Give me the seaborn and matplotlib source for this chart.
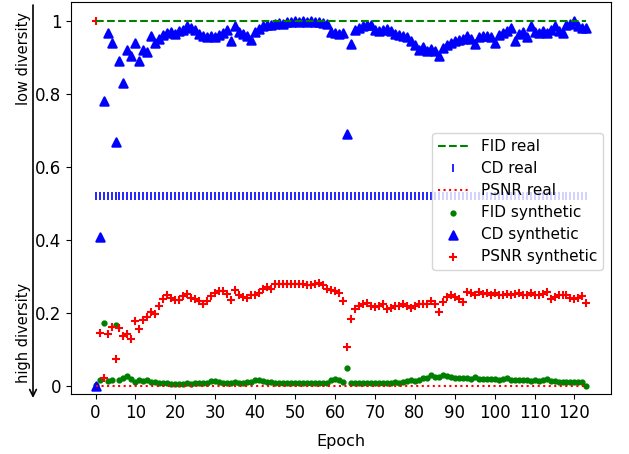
import numpy as np
import pandas as pd
import matplotlib
matplotlib.use("Agg")
import matplotlib.pyplot as plt
import seaborn as sns

plt.rcParams["font.size"] = 12
plt.rcParams["font.family"] = ["DejaVu Sans"]

epochs = list(range(124))

fid_real_value = 1.0
cd_real_value = 0.52
psnr_real_value = 0.0

fid_synthetic = [
    0.003, 0.016, 0.173, 0.015, 0.018, 0.169, 0.016, 0.023, 0.027, 0.021,
    0.012, 0.018, 0.015, 0.016, 0.011, 0.012, 0.009, 0.008, 0.008, 0.007,
    0.007, 0.007, 0.007, 0.008, 0.007, 0.008, 0.008, 0.009, 0.010, 0.014,
    0.015, 0.013, 0.010, 0.010, 0.009, 0.012, 0.009, 0.008, 0.011, 0.013,
    0.016, 0.018, 0.015, 0.013, 0.012, 0.010, 0.009, 0.009, 0.009, 0.008,
    0.008, 0.008, 0.008, 0.008, 0.008, 0.009, 0.008, 0.008, 0.009, 0.017,
    0.019, 0.018, 0.013, 0.051, 0.009, 0.008, 0.008, 0.008, 0.008, 0.008,
    0.009, 0.009, 0.009, 0.010, 0.010, 0.011, 0.010, 0.012, 0.014, 0.016,
    0.015, 0.018, 0.022, 0.023, 0.032, 0.025, 0.026, 0.032, 0.028, 0.026,
    0.024, 0.023, 0.022, 0.022, 0.021, 0.025, 0.021, 0.020, 0.019, 0.020,
    0.019, 0.018, 0.020, 0.022, 0.018, 0.017, 0.016, 0.017, 0.016, 0.015,
    0.016, 0.015, 0.017, 0.021, 0.015, 0.014, 0.013, 0.012, 0.012, 0.011,
    0.012, 0.011, 0.012, 0.000,
]

cd_synthetic = [
    0.000, 0.410, 0.780, 0.968, 0.940, 0.670, 0.890, 0.830, 0.920, 0.905,
    0.940, 0.890, 0.920, 0.915, 0.960, 0.940, 0.952, 0.962, 0.968, 0.970,
    0.965, 0.972, 0.975, 0.985, 0.980, 0.975, 0.965, 0.958, 0.955, 0.958,
    0.955, 0.962, 0.968, 0.975, 0.945, 0.985, 0.970, 0.965, 0.960, 0.948,
    0.970, 0.978, 0.985, 0.988, 0.990, 0.993, 0.995, 0.993, 0.997, 0.998,
    1.000, 0.998, 1.000, 0.997, 1.000, 0.998, 0.997, 0.995, 0.993, 0.970,
    0.968, 0.965, 0.968, 0.690, 0.936, 0.975, 0.980, 0.985, 0.988, 0.990,
    0.975, 0.973, 0.975, 0.978, 0.972, 0.965, 0.962, 0.960, 0.955, 0.945,
    0.935, 0.920, 0.930, 0.918, 0.922, 0.918, 0.905, 0.925, 0.935, 0.940,
    0.945, 0.948, 0.950, 0.960, 0.952, 0.936, 0.955, 0.960, 0.958, 0.955,
    0.940, 0.962, 0.968, 0.972, 0.980, 0.945, 0.965, 0.970, 0.955, 0.985,
    0.970, 0.968, 0.972, 0.968, 0.975, 0.985, 0.972, 0.968, 0.990, 0.992,
    1.000, 0.985, 0.980, 0.980,
]

psnr_synthetic = [
    1.000, 0.146, 0.022, 0.142, 0.162, 0.074, 0.160, 0.139, 0.144, 0.130,
    0.178, 0.156, 0.182, 0.189, 0.203, 0.197, 0.219, 0.240, 0.249, 0.242,
    0.235, 0.237, 0.246, 0.253, 0.241, 0.240, 0.233, 0.226, 0.233, 0.246,
    0.255, 0.262, 0.260, 0.253, 0.235, 0.264, 0.249, 0.244, 0.242, 0.249,
    0.251, 0.256, 0.267, 0.271, 0.267, 0.279, 0.281, 0.279, 0.281, 0.279,
    0.281, 0.281, 0.279, 0.276, 0.276, 0.281, 0.282, 0.276, 0.267, 0.265,
    0.262, 0.255, 0.234, 0.107, 0.185, 0.212, 0.221, 0.226, 0.228, 0.221,
    0.217, 0.219, 0.224, 0.212, 0.215, 0.219, 0.221, 0.226, 0.219, 0.215,
    0.219, 0.224, 0.226, 0.226, 0.233, 0.226, 0.203, 0.230, 0.244, 0.251,
    0.244, 0.240, 0.230, 0.258, 0.255, 0.249, 0.258, 0.253, 0.255, 0.249,
    0.255, 0.249, 0.249, 0.253, 0.249, 0.253, 0.255, 0.249, 0.251, 0.255,
    0.251, 0.249, 0.253, 0.258, 0.240, 0.244, 0.249, 0.251, 0.249, 0.242,
    0.240, 0.242, 0.246, 0.228,
]

xticks = list(range(0, 121, 10))
yticks = [0, 0.2, 0.4, 0.6, 0.8, 1]
ytick_labels = ["0", "0.2", "0.4", "0.6", "0.8", "1"]

df = pd.DataFrame({
    "epoch": epochs,
    "fid_real": [fid_real_value] * len(epochs),
    "cd_real": [cd_real_value] * len(epochs),
    "psnr_real": [psnr_real_value] * len(epochs),
    "fid_syn": fid_synthetic,
    "cd_syn": cd_synthetic,
    "psnr_syn": psnr_synthetic,
})

W, H = 629, 454
fig = plt.figure(figsize=(W / 100, H / 100), dpi=100)
ax = fig.add_axes([71 / W, 60 / H, 540 / W, 392 / H])

sns.lineplot(data=df, x="epoch", y="fid_real", ax=ax, color="g", linestyle="--",
             linewidth=1.5, label="FID real")
sns.lineplot(data=df, x="epoch", y="cd_real", ax=ax, color="b", linestyle="",
             marker="|", markersize=6, markeredgecolor="b", markeredgewidth=1.2,
             label="CD real")
sns.lineplot(data=df, x="epoch", y="psnr_real", ax=ax, color="r", linestyle=":",
             linewidth=1.5, label="PSNR real")

sns.scatterplot(data=df, x="epoch", y="fid_syn", ax=ax, color="g", marker=".",
                s=36, linewidth=1.5, edgecolor="g", label="FID synthetic")
sns.scatterplot(data=df, x="epoch", y="cd_syn", ax=ax, color="b", marker="^",
                s=36, linewidth=1.5, edgecolor="b", label="CD synthetic")
sns.scatterplot(data=df, x="epoch", y="psnr_syn", ax=ax, color="r", marker="+",
                s=36, linewidth=1.5, label="PSNR synthetic")

ax.set_xlim(-6.15, 129.15)
ax.set_ylim(-0.021, 1.052)
ax.set_xticks(xticks)
ax.set_yticks(yticks)
ax.set_yticklabels(ytick_labels)
ax.set_xlabel("Epoch", fontsize=11.5, labelpad=9)
ax.set_ylabel("")
ax.legend(loc="center right", bbox_to_anchor=(1, 0.491), fontsize=11, labelspacing=0.45)

# diversity annotation at the left
fig.text(24 / W, 1 - 12 / H, "low diversity", rotation=90, ha="center", va="top",
         fontsize=10.5)
fig.text(24 / W, 1 - 383 / H, "high diversity", rotation=90, ha="center", va="bottom",
         fontsize=10.5)
ax.annotate("", xy=(33, H - 398), xytext=(33, H - 5), xycoords="figure pixels",
            textcoords="figure pixels",
            arrowprops=dict(arrowstyle="->", lw=1.2, color="k", shrinkA=0, shrinkB=0),
            annotation_clip=False)

fig.savefig("out.png", dpi=100)
